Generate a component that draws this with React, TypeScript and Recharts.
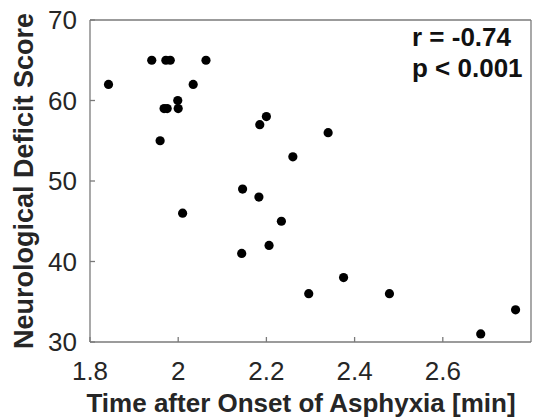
import React from "react";
import {
  ScatterChart,
  Scatter,
  XAxis,
  YAxis,
  Label,
  Customized,
} from "recharts";

// asphyxia onset time (min) and neurological deficit score per animal
const times = [
  1.842, 1.94, 1.972, 1.982, 2.063, 2.034, 1.999, 1.968, 1.975, 2.0, 1.959,
  2.2, 2.185, 2.26, 2.34, 2.146, 2.183, 2.01, 2.234, 2.206, 2.144, 2.296,
  2.375, 2.479, 2.686, 2.765,
];
const scores = [
  62, 65, 65, 65, 65, 62, 60, 59, 59, 59, 55, 58, 57, 53, 56, 49, 48, 46, 45,
  42, 41, 36, 38, 36, 31, 34,
];

const xTicks = [1.8, 2, 2.2, 2.4, 2.6];
const yTicks = [30, 40, 50, 60, 70];
const statLines = ["r = -0.74", "p < 0.001"];

const points = times.map((t, i) => ({ x: t, y: scores[i] }));

const FONT = '"Liberation Sans", Arial, Helvetica, sans-serif';
const AXIS_COLOR = "#7a7a7a";
const TEXT_COLOR = "#262626";

const tickStyle = { fill: TEXT_COLOR, fontSize: 26, fontFamily: FONT };

const Dot = (props: any) => (
  <circle cx={props.cx} cy={props.cy} r={4.6} fill="#000" />
);

// the top/right axes only exist to close the box, so their series draws nothing
const NoDot = () => <g />;

const StatsText = () => (
  <g fontFamily={FONT} fontWeight="bold" fontSize={26} fill="#111">
    {statLines.map((s, i) => (
      <text key={s} x={412} y={46 + i * 31}>
        {s}
      </text>
    ))}
  </g>
);

export default function App() {
  return (
    <div style={{ position: "absolute", left: 0, top: 0, background: "#fff" }}>
      <ScatterChart
        width={533}
        height={418}
        margin={{ top: 19, right: 1, bottom: 0, left: 0 }}
      >
        <XAxis
          xAxisId="b"
          type="number"
          dataKey="x"
          domain={[1.8, 2.8]}
          ticks={xTicks}
          allowDataOverflow
          height={76}
          tickSize={-5}
          tickMargin={25}
          tick={tickStyle}
          stroke={AXIS_COLOR}
          strokeWidth={1.3}
        >
          <Label
            content={() => (
              <text
                x={301}
                y={412}
                textAnchor="middle"
                fontFamily={FONT}
                fontWeight="bold"
                fontSize={26}
                fill={TEXT_COLOR}
              >
                Time after Onset of Asphyxia [min]
              </text>
            )}
          />
        </XAxis>
        <XAxis
          xAxisId="t"
          orientation="top"
          type="number"
          dataKey="x"
          domain={[1.8, 2.8]}
          ticks={xTicks}
          allowDataOverflow
          height={1}
          tickSize={-5}
          tick={false}
          stroke={AXIS_COLOR}
          strokeWidth={1.3}
        />
        <YAxis
          yAxisId="l"
          type="number"
          dataKey="y"
          domain={[30, 70]}
          ticks={yTicks}
          allowDataOverflow
          width={90}
          tickSize={-5}
          tickMargin={18}
          tick={tickStyle}
          stroke={AXIS_COLOR}
          strokeWidth={1.3}
        >
          <Label
            content={() => (
              <text
                x={33}
                y={181}
                transform="rotate(-90, 33, 181)"
                textAnchor="middle"
                fontFamily={FONT}
                fontWeight="bold"
                fontSize={27}
                fill={TEXT_COLOR}
              >
                Neurological Deficit Score
              </text>
            )}
          />
        </YAxis>
        <YAxis
          yAxisId="r"
          orientation="right"
          type="number"
          dataKey="y"
          domain={[30, 70]}
          ticks={yTicks}
          allowDataOverflow
          width={1}
          tickSize={-5}
          tick={false}
          stroke={AXIS_COLOR}
          strokeWidth={1.3}
        />
        <Scatter
          xAxisId="t"
          yAxisId="r"
          data={points}
          shape={NoDot}
          isAnimationActive={false}
        />
        <Scatter
          xAxisId="b"
          yAxisId="l"
          data={points}
          shape={Dot}
          isAnimationActive={false}
        />
        <Customized component={StatsText} />
      </ScatterChart>
    </div>
  );
}
